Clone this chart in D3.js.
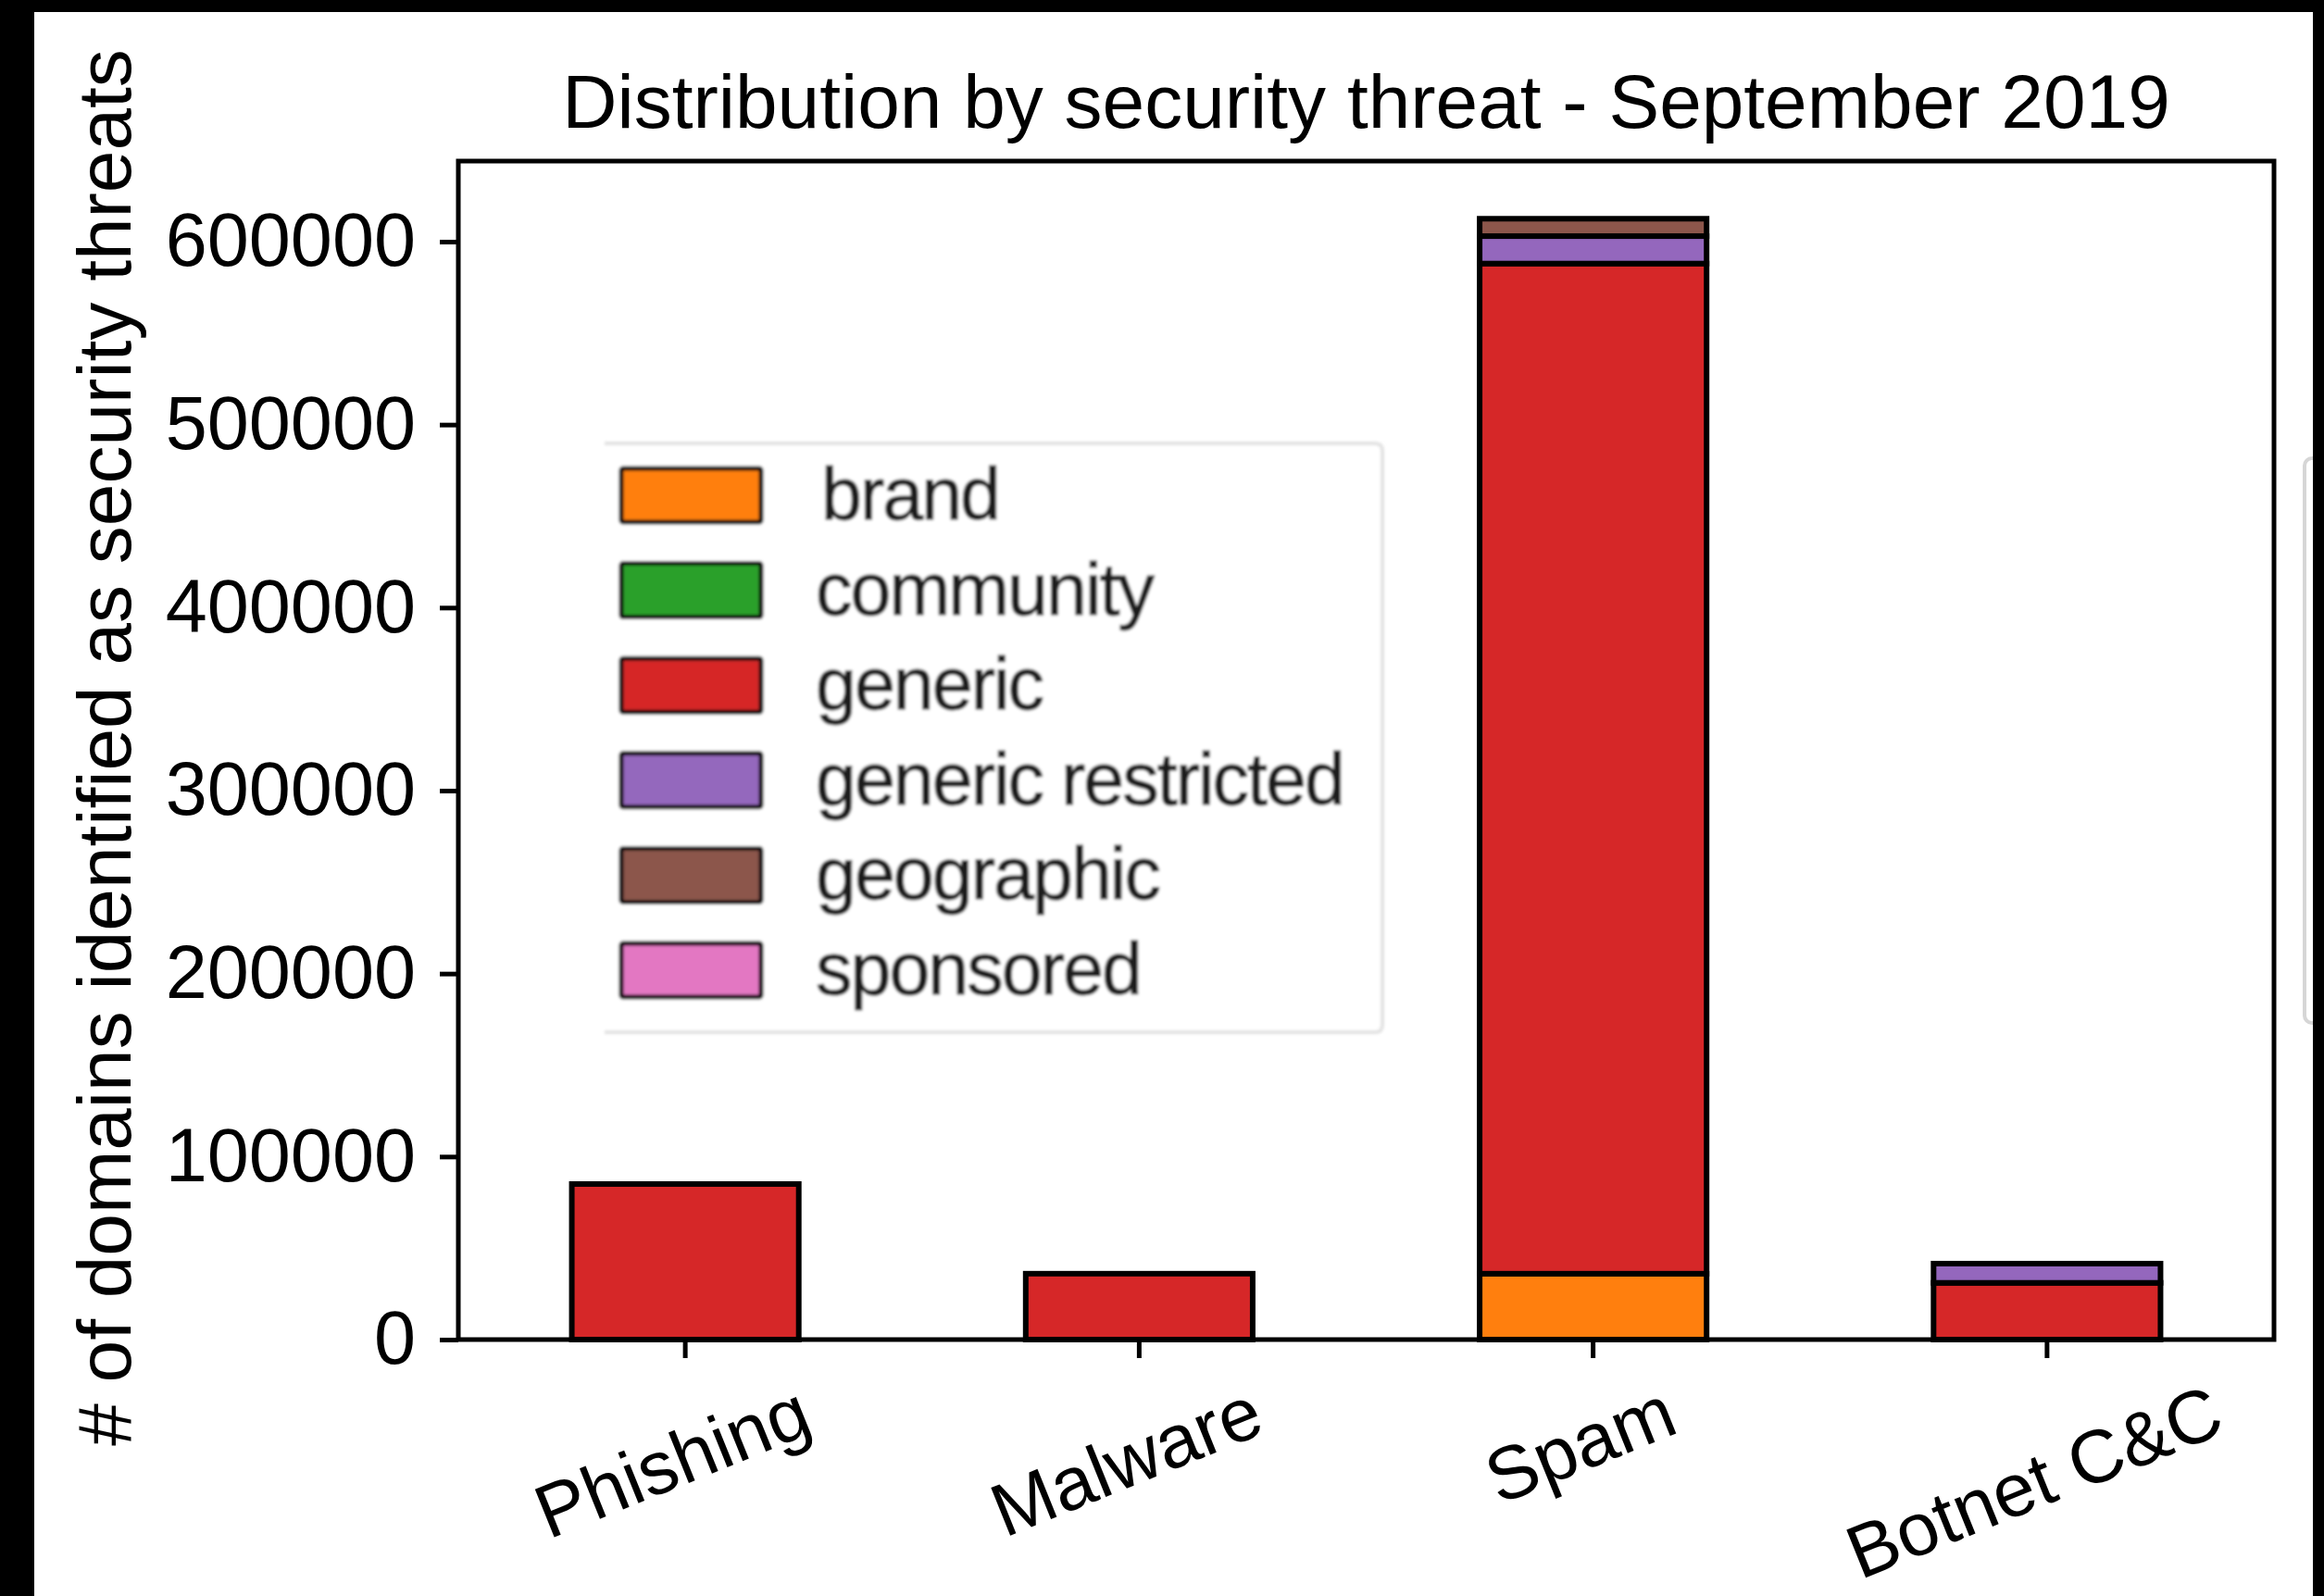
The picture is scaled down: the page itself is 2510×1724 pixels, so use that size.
<!DOCTYPE html>
<html>
<head>
<meta charset="utf-8">
<script src="https://cdn.jsdelivr.net/npm/d3@7"></script>
<style>
  html, body { margin: 0; padding: 0; background: #fff; }
  svg { display: block; }
  text { font-family: "Liberation Sans", Arial, sans-serif; fill: #000; }
</style>
</head>
<body>
<div id="app"></div>
<script>
// data
const categories = ['Phishing', 'Malware', 'Spam', 'Botnet C&C']
const seriesNames = ['brand', 'community', 'generic', 'generic restricted', 'geographic', 'sponsored']
const brand = [0, 0, 36000, 0]
const community = [0, 0, 0, 0]
const generic = [85000, 36000, 552000, 31000]
const genericRestricted = [0, 0, 15000, 10500]
const geographic = [0, 0, 9500, 0]
const sponsored = [0, 0, 0, 0]
const yTicks = [0, 100000, 200000, 300000, 400000, 500000, 600000]
const colors = ['#ff7f0e', '#2ca02c', '#d62728', '#9467bd', '#8c564b', '#e377c2']

const W = 2510, H = 1724
const mLeft = 495, mRight = 2456, mTop = 174, mBottom = 1447

const svg = d3.select('#app').append('svg').attr('width', W).attr('height', H)

svg.append('rect').attr('width', W).attr('height', H).attr('fill', '#fff')

// faint partial box near right edge
svg.append('rect').attr('x', 2489).attr('y', 495).attr('width', 40).attr('height', 610)
  .attr('rx', 8).attr('fill', '#fff').attr('stroke', '#d6d6d6').attr('stroke-width', 4)

const rows = categories.map((c, i) => ({
  cat: c,
  'brand': brand[i],
  'community': community[i],
  'generic': generic[i],
  'generic restricted': genericRestricted[i],
  'geographic': geographic[i],
  'sponsored': sponsored[i]
}))

const x = d3.scaleBand().domain(categories).range([mLeft, mRight]).paddingInner(0.5).paddingOuter(0.25)
const y = d3.scaleLinear().domain([0, 644000]).range([mBottom, mTop])
const color = d3.scaleOrdinal().domain(seriesNames).range(colors)

const stacked = d3.stack().keys(seriesNames)(rows)

const g = svg.append('g')

g.selectAll('g.layer').data(stacked).enter().append('g')
  .attr('class', 'layer')
  .attr('fill', d => color(d.key))
  .selectAll('rect').data(d => d.filter(s => s[1] - s[0] > 0)).enter().append('rect')
  .attr('x', d => x(d.data.cat))
  .attr('width', x.bandwidth())
  .attr('y', d => y(d[1]))
  .attr('height', d => y(d[0]) - y(d[1]))
  .attr('stroke', '#000')
  .attr('stroke-width', 6)

// y axis
const yAxis = d3.axisLeft(y).tickValues(yTicks).tickFormat(d3.format('d')).tickSize(20).tickSizeOuter(0).tickPadding(26)
const ya = svg.append('g').attr('transform', `translate(${mLeft},0)`).call(yAxis)
ya.select('.domain').remove()
ya.selectAll('line').attr('stroke-width', 5)
ya.selectAll('text').attr('font-size', 81).attr('font-family', '"Liberation Sans", Arial, sans-serif')

// x axis
const xAxis = d3.axisBottom(x).tickSize(20).tickSizeOuter(0).tickFormat('')
const xa = svg.append('g').attr('transform', `translate(0,${mBottom})`).call(xAxis)
xa.select('.domain').remove()
xa.selectAll('line').attr('stroke-width', 5)

// rotated category labels
const rot = 22
const rad = rot * Math.PI / 180
categories.forEach(c => {
  const t = svg.append('text').text(c).attr('font-size', 81)
    .attr('text-anchor', 'middle').attr('dominant-baseline', 'central')
  const w = t.node().getComputedTextLength()
  const h = 81
  const half = (w * Math.sin(rad) + h * Math.cos(rad)) / 2
  const cx = x(c) + x.bandwidth() / 2 - 14
  t.attr('transform', `translate(${cx},${1483 + half}) rotate(${-rot})`)
})

// axes frame
svg.append('rect').attr('x', mLeft).attr('y', mTop).attr('width', mRight - mLeft).attr('height', mBottom - mTop)
  .attr('fill', 'none').attr('stroke', '#000').attr('stroke-width', 5)

// title
svg.append('text').attr('x', (mLeft + mRight) / 2).attr('y', 138).attr('text-anchor', 'middle')
  .attr('font-size', 82).text('Distribution by security threat - September 2019')

// y label
svg.append('text').attr('transform', `translate(141,${(mTop + mBottom) / 2 - 3}) rotate(-90)`)
  .attr('text-anchor', 'middle').attr('font-size', 82)
  .text('# of domains identified as security threats')

// legend (pasted, slightly blurry)
const defs = svg.append('defs')
defs.append('filter').attr('id', 'blur')
  .attr('x', -0.05).attr('y', -0.05).attr('width', 1.1).attr('height', 1.1)
  .append('feGaussianBlur').attr('stdDeviation', 1.6)

const lg = svg.append('g').attr('filter', 'url(#blur)')
lg.append('rect').attr('x', 653).attr('y', 479).attr('width', 840).attr('height', 636).attr('fill', '#fff')
lg.append('path').attr('d', 'M653,479 H1485 Q1493,479 1493,487 V1107 Q1493,1115 1485,1115 H653')
  .attr('fill', 'none').attr('stroke', '#e2e2e2').attr('stroke-width', 4)

const ly = d3.scalePoint().domain(seriesNames).range([535, 1048])
const items = lg.selectAll('g.item').data(seriesNames).enter().append('g').attr('class', 'item')
items.append('rect')
  .attr('x', 671).attr('y', d => ly(d) - 29).attr('width', 151).attr('height', 58)
  .attr('fill', d => color(d)).attr('stroke', '#111').attr('stroke-width', 5).attr('rx', 2)
items.append('text')
  .attr('x', (d, i) => i === 0 ? 887 : 881).attr('y', d => ly(d) + 26)
  .attr('font-size', 79).attr('letter-spacing', -2)
  .style('fill', '#1c1c1c').style('stroke', '#1c1c1c').style('stroke-width', 1)
  .text(d => d)

// black edges of the screenshot
svg.append('rect').attr('x', 0).attr('y', 0).attr('width', W).attr('height', 13).attr('fill', '#000')
svg.append('rect').attr('x', 0).attr('y', 0).attr('width', 37).attr('height', H).attr('fill', '#000')
svg.append('rect').attr('x', 2498).attr('y', 0).attr('width', 12).attr('height', H).attr('fill', '#000')
</script>
</body>
</html>
